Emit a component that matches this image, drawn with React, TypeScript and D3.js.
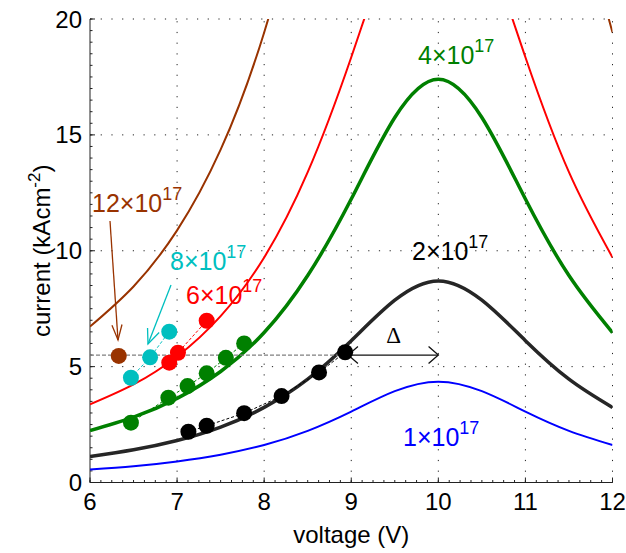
import React from 'react';
import * as d3 from 'd3';

const W = 626;
const H = 553;
const margin = { top: 19, right: 13.5, bottom: 70.5, left: 90 };
const FONT = '"Liberation Sans", Arial, Helvetica, sans-serif';

// model curves, every 0.5 V
const voltageGrid = [6, 6.5, 7, 7.5, 8, 8.5, 9, 9.5, 10, 10.5, 11, 11.5, 12];
const current1e17 = [0.56, 0.7, 0.91, 1.2, 1.62, 2.23, 3.06, 3.94, 4.35, 3.94, 3.06, 2.23, 1.62];
const current2e17 = [1.12, 1.41, 1.81, 2.39, 3.24, 4.46, 6.12, 7.87, 8.7, 7.87, 6.12, 4.46, 3.24];
const current4e17 = [2.24, 2.82, 3.63, 4.79, 6.47, 8.93, 12.23, 15.75, 17.4, 15.75, 12.23, 8.93, 6.47];
const current6e17 = [3.37, 4.23, 5.44, 7.18, 9.71, 13.39, 18.35, 23.62, 26.1, 23.62, 18.35, 13.39, 9.71];
const current12e17 = [6.73, 8.46, 10.88, 14.36, 19.42, 26.78, 36.7, 47.24, 52.2, 47.24, 36.7, 26.78, 19.42];

// measured points
const brownV = [6.33];
const brownI = [5.46];
const cyanV = [6.47, 6.69, 6.91];
const cyanI = [4.52, 5.4, 6.51];
const redV = [6.91, 7.01, 7.34];
const redI = [5.17, 5.6, 6.98];
const greenV = [6.47, 6.9, 7.12, 7.34, 7.56, 7.77];
const greenI = [2.58, 3.66, 4.16, 4.71, 5.38, 6.0];
const blackV = [7.13, 7.34, 7.77, 8.2, 8.63, 8.93];
const blackI = [2.19, 2.45, 2.99, 3.73, 4.75, 5.62];

const xTicks = [6, 7, 8, 9, 10, 11, 12];
const yTicks = [0, 5, 10, 15, 20];

const deltaLevel = 5.5;
const deltaFrom = 8.93;
const deltaTo = 10;

const BROWN = '#993300';
const CYAN = '#00bfbf';
const RED = '#ff0000';
const GREEN = '#008000';
const BLACK = '#262626';
const BLUE = '#0000ff';

const x = d3.scaleLinear().domain([6, 12]).range([margin.left, W - margin.right]);
const y = d3.scaleLinear().domain([0, 20]).range([H - margin.bottom, margin.top]);

const curveLine = d3.line<number>()
  .x((_, i) => x(voltageGrid[i]))
  .y(d => y(d))
  .curve(d3.curveNatural);

const pointLine = d3.line<[number, number]>()
  .x(d => x(d[0]))
  .y(d => y(d[1]));

const zip = (a: number[], b: number[]) => a.map((v, i) => [v, b[i]] as [number, number]);

// open arrow head at (tx,ty) coming from (fx,fy)
const arrowHead = (fx: number, fy: number, tx: number, ty: number, len = 14, ang = 0.45) => {
  const a = Math.atan2(fy - ty, fx - tx);
  const p1 = [tx + len * Math.cos(a + ang), ty + len * Math.sin(a + ang)];
  const p2 = [tx + len * Math.cos(a - ang), ty + len * Math.sin(a - ang)];
  return `M${p1[0]},${p1[1]}L${tx},${ty}L${p2[0]},${p2[1]}`;
};

const Label = ({ x0, y0, base, color }: { x0: number; y0: number; base: string; color: string }) => (
  <text x={x0} y={y0} fill={color} fontSize={25} fontFamily={FONT}>
    {base}×10
    <tspan dy={-12} fontSize={18}>17</tspan>
  </text>
);

export default function App() {
  const curves = [
    { v: current12e17, c: BROWN, w: 2 },
    { v: current6e17, c: RED, w: 2 },
    { v: current4e17, c: GREEN, w: 3.5 },
    { v: current2e17, c: BLACK, w: 3.5 },
    { v: current1e17, c: BLUE, w: 2 },
  ];
  const pointSets = [
    { p: zip(brownV, brownI), c: BROWN },
    { p: zip(cyanV, cyanI), c: CYAN },
    { p: zip(redV, redI), c: RED },
    { p: zip(greenV, greenI), c: GREEN },
    { p: zip(blackV, blackI), c: '#000' },
  ];
  const x0 = x(6), x1 = x(12), y0 = y(0), y1 = y(20);
  const xMinor = d3.range(6, 12.0001, 0.125);
  const yMinor = d3.range(0, 20.0001, 0.5);
  const dy = y(deltaLevel);

  return (
    <svg width={W} height={H} style={{ position: 'absolute', left: 0, top: 0, background: '#fff' }}>
      <defs>
        <clipPath id="plot">
          <rect x={x0} y={y1} width={x1 - x0} height={y0 - y1} />
        </clipPath>
      </defs>

      {/* grid */}
      <g stroke="#222" strokeWidth={1} strokeDasharray="1.2,9.5">
        {xTicks.slice(1).map(t => <line key={'gx' + t} x1={x(t)} x2={x(t)} y1={y0} y2={y1} />)}
        {yTicks.slice(1).map(t => <line key={'gy' + t} x1={x0} x2={x1} y1={y(t)} y2={y(t)} />)}
      </g>

      {/* axes */}
      <g stroke="#222" strokeWidth={1}>
        <line x1={x0} x2={x1} y1={y0} y2={y0} />
        <line x1={x0} x2={x0} y1={y0} y2={y1} />
        {xMinor.map(t => <line key={'mx' + t} x1={x(t)} x2={x(t)} y1={y0} y2={y0 - 2.5} />)}
        {yMinor.map(t => <line key={'my' + t} x1={x0} x2={x0 + 2.5} y1={y(t)} y2={y(t)} />)}
        {xTicks.map(t => <line key={'tx' + t} x1={x(t)} x2={x(t)} y1={y0} y2={y0 - 5} />)}
        {yTicks.map(t => <line key={'ty' + t} x1={x0} x2={x0 + 5} y1={y(t)} y2={y(t)} />)}
      </g>
      <g fontFamily={FONT} fontSize={24} fill="#000">
        {xTicks.map(t => (
          <text key={'lx' + t} x={x(t)} y={y0 + 27} textAnchor="middle">{t}</text>
        ))}
        {yTicks.map(t => (
          <text key={'ly' + t} x={x0 - 8} y={y(t) + 8.5} textAnchor="end">{t}</text>
        ))}
        <text x={(x0 + x1) / 2} y={543} textAnchor="middle">voltage (V)</text>
        <text transform={`translate(50,${(y0 + y1) / 2}) rotate(-90)`} textAnchor="middle">
          current (kAcm<tspan dy={-10} fontSize={17}>-2</tspan><tspan dy={10}>)</tspan>
        </text>
      </g>

      {/* model curves */}
      <g clipPath="url(#plot)" fill="none">
        {curves.map((s, i) => (
          <path key={'c' + i} d={curveLine(s.v) || ''} stroke={s.c} strokeWidth={s.w} />
        ))}
      </g>

      {/* delta guide */}
      <line x1={x0} x2={x(deltaFrom)} y1={dy} y2={dy} stroke="#808080" strokeWidth={1.3} strokeDasharray="4,2" />
      <g stroke="#111" strokeWidth={1.3} fill="none">
        <line x1={x(deltaFrom) + 3} x2={x(deltaTo)} y1={dy} y2={dy} />
        <path d={arrowHead(x(deltaTo), dy, x(deltaFrom) + 3, dy, 13, 0.72)} />
        <path d={arrowHead(x(deltaFrom), dy, x(deltaTo), dy, 13, 0.72)} />
      </g>
      <text x={(x(deltaFrom) + x(deltaTo)) / 2 + 2} y={dy - 12} textAnchor="middle" fontSize={23}
        fontFamily='"Liberation Serif", "Times New Roman", serif'>Δ</text>

      {/* measured points */}
      {pointSets.map((s, i) => (
        <g key={'p' + i}>
          {s.p.length > 1 && (
            <path d={pointLine(s.p) || ''} stroke={s.c} strokeWidth={1} strokeDasharray="3,2" fill="none" />
          )}
          {s.p.map((d, j) => (
            <circle key={j} cx={x(d[0])} cy={y(d[1])} r={8} fill={s.c} />
          ))}
        </g>
      ))}

      {/* annotations */}
      <g fill="none" strokeWidth={1.3}>
        <line x1={110} y1={221} x2={118} y2={340} stroke={BROWN} />
        <path d={arrowHead(110, 221, 118, 340, 16, 0.32)} stroke={BROWN} />
        <line x1={171} y1={285} x2={148} y2={344} stroke={CYAN} />
        <path d={arrowHead(171, 285, 148, 344, 16, 0.4)} stroke={CYAN} />
      </g>
      <Label x0={92} y0={212} base="12" color={BROWN} />
      <Label x0={170} y0={270} base="8" color={CYAN} />
      <Label x0={186} y0={304} base="6" color={RED} />
      <Label x0={418} y0={64} base="4" color={GREEN} />
      <Label x0={412} y0={260} base="2" color="#000" />
      <Label x0={403} y0={446} base="1" color={BLUE} />
    </svg>
  );
}
